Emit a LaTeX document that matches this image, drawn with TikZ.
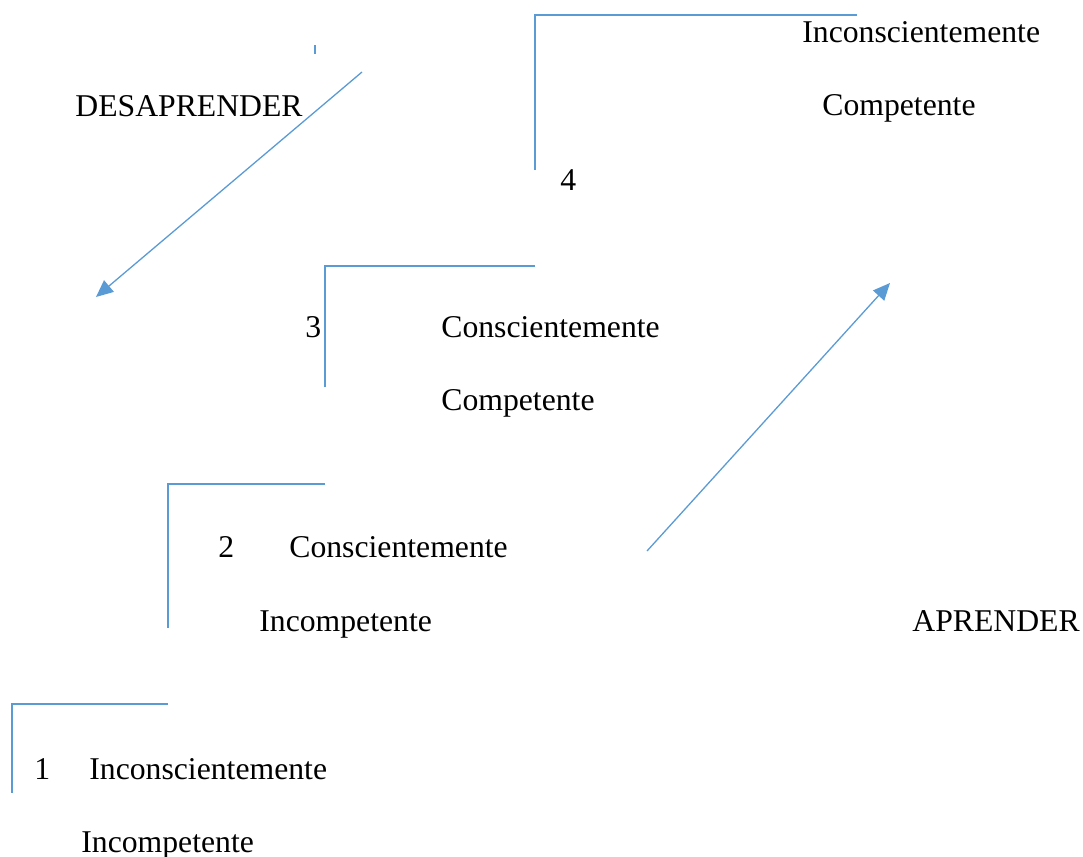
\documentclass[tikz,border=0pt]{standalone}
\usepackage{fontspec}
\setmainfont{Liberation Serif}
\usepackage{tikz}
\usetikzlibrary{arrows.meta,positioning,calc}

\definecolor{lineblue}{RGB}{91,155,213}

\tikzset{
  bracket/.style={draw=lineblue, line width=0.65pt},
  flow/.style={draw=lineblue, line width=0.65pt, -{Triangle[length=8.5pt,width=7.5pt]}},
  label/.style={anchor=base west, inner sep=0pt, font=\fontsize{15.85}{19}\selectfont},
}

\begin{document}
\begin{tikzpicture}[x=0.5pt, y=-0.5pt]
    \useasboundingbox (0, 0) rectangle (1083, 857);

    % Steps as brackets
    \draw[bracket] (535, 170) -- (535, 15) -- (857, 15);
    \draw[bracket] (325, 387) -- (325, 266) -- (535, 266);
    \draw[bracket] (168, 628) -- (168, 484) -- (325, 484);
    \draw[bracket] (12, 793) -- (12, 704) -- (168, 704);
    \draw[bracket] (315, 45) -- (315, 54);

    % Step 4
    \node[label] (incT) at (802, 42) {Inconscientemente};
    \node[label] (compT) at (822, 115) {Competente};
    \node[label] (four) at (560, 190) {4};

    % Step 3
    \node[label] (three) at (305, 337) {3};
    \node[label] (consA) at (441, 337) {Conscientemente};
    \node[label] (compA) at (441, 410) {Competente};

    % Step 2
    \node[label] (two) at (218, 557) {2};
    \node[label] (consB) at (289, 557) {Conscientemente};
    \node[label] (incompB) at (259, 631) {Incompetente};

    % Step 1
    \node[label] (one) at (34, 779) {1};
    \node[label] (incC) at (89, 779) {Inconscientemente};
    \node[label] (incompC) at (81, 852) {Incompetente};

    % Learning and unlearning
    \node[label] (desaprender) at (75, 116) {DESAPRENDER};
    \node[label] (aprender) at (912, 631) {APRENDER};

    \coordinate (desStart) at (362, 72);
    \coordinate (desEnd) at (96, 297);
    \coordinate (apStart) at (647, 551);
    \coordinate (apEnd) at (890, 283);
    \draw[flow] (desStart) -- (desEnd);
    \draw[flow] (apStart) -- (apEnd);
\end{tikzpicture}
\end{document}
